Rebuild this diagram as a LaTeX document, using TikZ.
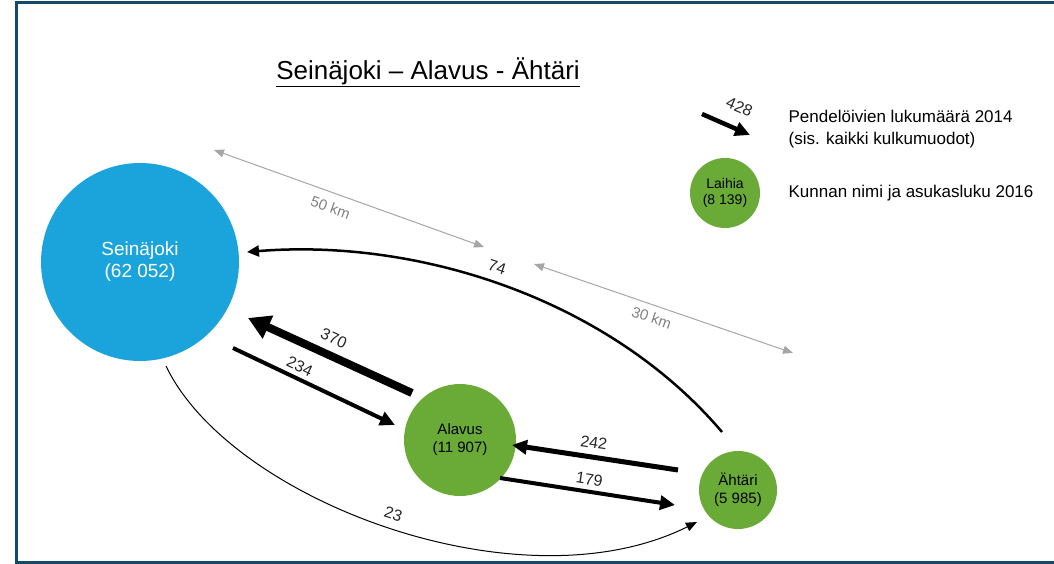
\documentclass[tikz,border=0pt]{standalone}
\usepackage{fontspec}
\setmainfont{Liberation Sans}
\usepackage{tikz}
\usetikzlibrary{arrows.meta,positioning,calc}
\definecolor{sjblue}{RGB}{27,163,219}
\definecolor{kgreen}{RGB}{106,171,56}
\definecolor{frameblue}{RGB}{22,72,104}
\newcommand{\fs}[1]{\fontsize{#1}{#1}\selectfont}

\begin{document}
\begin{tikzpicture}[x=1pt, y=-1pt, semithick, font=\fs{16}]
	\tikzstyle{town}=[circle, fill=kgreen, text=black, align=center, inner sep=0pt, font=\fs{15}]
	\tikzstyle{flow}=[-{Triangle[length=15pt,width=14pt]}, draw=black]
	\tikzstyle{dist}=[{Triangle[length=10pt,width=8pt]}-{Triangle[length=10pt,width=8pt]}, draw=black!35, line width=1pt]
	\tikzstyle{lbl}=[sloped, inner sep=1.5pt, text=black!85]
	\useasboundingbox (0,0) rectangle (1054,564);
	\draw[frameblue, line width=3pt] (1060,3) -- (16,3) -- (16,562) -- (1060,562);
	\node (title) at (428,72) {\fs{26}\underline{Seinäjoki – Alavus - Ähtäri}};
	\node[circle, fill=sjblue, text=white, align=center, minimum size=198pt, inner sep=0pt, font=\fs{19}] (Sei) at (140,262) {Seinäjoki\\[3pt](62 052)};
	\node[town, minimum size=112pt] (Ala) at (460,440) {Alavus\\[3pt](11 907)};
	\node[town, minimum size=78pt] (Aht) at (738,490) {Ähtäri\\[3pt](5 985)};
	\node[town, minimum size=70pt, font=\fs{14}] (Lai) at (725,193) {Laihia\\[2pt](8 139)};
	% legend
	\coordinate (k1) at (702,114);
	\coordinate (k2) at (750,135);
	\node[anchor=west, align=left, font=\fs{17}] (leg1) at (785,129) {Pendelöivien lukumäärä 2014\\[5pt](sis. kaikki kulkumuodot)};
	\node[anchor=west, font=\fs{17}] (leg2) at (785,193) {Kunnan nimi ja asukasluku 2016};
	% distances
	\coordinate (d1) at (214,150);
	\coordinate (d2) at (484,247);
	\coordinate (d3) at (534,264);
	\coordinate (d4) at (793,353);
	% flow ends
	\coordinate (a370) at ($(Ala)+(-48,-47)$);
	\coordinate (s370) at ($(Sei)+(108,56)$);
	\coordinate (s234) at ($(Sei)+(93,86)$);
	\coordinate (a234) at ($(Ala)+(-65,-15)$);
	\coordinate (h242) at ($(Aht)+(-60,-20)$);
	\coordinate (a242) at ($(Ala)+(52,5)$);
	\coordinate (a179) at ($(Ala)+(40,38)$);
	\coordinate (h179) at ($(Aht)+(-63,15)$);
	\coordinate (h74) at ($(Aht)+(-16,-58)$);
	\coordinate (s74) at ($(Sei)+(107,-10)$);
	\coordinate (s23) at ($(Sei)+(26,104)$);
	\coordinate (h23) at ($(Aht)+(-41,32)$);
	\path
	(k1) edge[flow, line width=4.5pt] node[lbl, above=12pt, pos=0.6]{428} (k2)
	(d1) edge[dist] node[lbl, below=7pt, pos=0.45, text=black!50, font=\fs{15}]{50 km} (d2)
	(d3) edge[dist] node[lbl, below=5pt, pos=0.47, text=black!50, font=\fs{15}]{30 km} (d4)
	(a370) edge[flow, line width=8pt, -{Triangle[length=22pt,width=24pt]}] node[lbl, above=6pt, pos=0.52]{370} (s370)
	(s234) edge[flow, line width=4pt] node[lbl, above=3pt, pos=0.38]{234} (a234)
	(h242) edge[flow, line width=5pt] node[lbl, above=5pt, pos=0.52]{242} (a242)
	(a179) edge[flow, line width=4pt] node[lbl, above=3pt, pos=0.5]{179} (h179);
	\draw[flow, line width=2.5pt, -{Triangle[length=12pt,width=11pt]}] (h74) .. controls (610,300) and (420,238) .. node[lbl, above=7pt, pos=0.53]{74} (s74);
	\draw[flow, line width=1pt, -{Triangle[length=11pt,width=9pt]}] (s23) .. controls (230,500) and (520,610) .. node[lbl, above=6pt, pos=0.5]{23} (h23);
\end{tikzpicture}
\end{document}
